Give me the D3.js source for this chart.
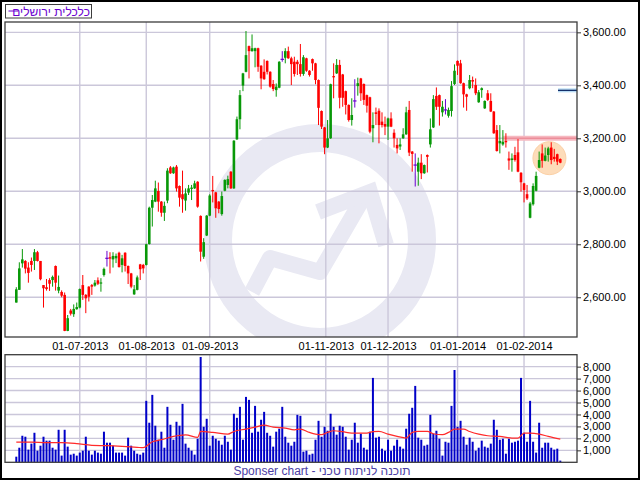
<!DOCTYPE html>
<html><head><meta charset="utf-8">
<script src="https://cdn.jsdelivr.net/npm/d3@7"></script>
<style>body{margin:0;background:#fff}svg{display:block}text{font-family:"Liberation Sans",Arial,sans-serif}</style>
</head><body><svg id="c" width="640" height="480"></svg>
<script>
const opens=[2580,2628,2728,2737,2712,2737,2737,2770,2737,2646,2638,2665,2665,2718,2625,2620,2609,2473,2550,2536,2555,2561,2646,2609,2640,2646,2644,2664,2653,2684,2747,2751,2743,2747,2768,2722,2768,2718,2690,2611,2628,2724,2722,2722,2801,2938,2961,3001,2961,2919,2965,3090,3068,3093,3020,2989,2965,2995,3009,3011,3036,2907,2753,2833,2908,3005,2996,2961,2914,3002,3024,3074,3011,3196,3272,3399,3451,3548,3529,3529,3540,3474,3451,3492,3451,3405,3382,3391,3498,3504,3529,3502,3489,3489,3480,3443,3502,3455,3499,3483,3420,3303,3241,3165,3200,3435,3445,3477,3441,3378,3326,3269,3341,3397,3426,3405,3363,3355,3238,3298,3304,3263,3254,3244,3275,3221,3175,3169,3200,3215,3307,3150,3099,3074,3108,3068,3137,3177,3241,3360,3363,3298,3307,3285,3303,3405,3492,3483,3408,3366,3389,3420,3401,3336,3382,3313,3370,3341,3301,3231,3181,3177,3190,3124,3118,3137,3147,3070,3030,2989,2900,2951,3002,3089,3143,3115,3137,3165,3130,3140,3122];
const highs=[2638,2732,2782,2740,2732,2750,2782,2775,2737,2646,2669,2672,2682,2720,2682,2626,2618,2533,2556,2573,2580,2633,2684,2612,2642,2650,2665,2675,2672,2712,2775,2770,2770,2765,2772,2760,2770,2720,2692,2646,2682,2726,2726,2802,2942,2986,3040,3033,2963,2961,3087,3095,3093,3099,3022,3078,3011,3024,3024,3040,3038,2909,2823,2910,2989,3058,2998,2963,2999,3045,3059,3076,3193,3282,3382,3447,3605,3550,3592,3542,3542,3476,3498,3494,3453,3420,3407,3491,3529,3540,3546,3508,3508,3496,3556,3514,3504,3457,3501,3485,3422,3305,3243,3269,3406,3483,3499,3496,3443,3380,3328,3351,3423,3429,3428,3407,3365,3357,3298,3316,3313,3298,3282,3278,3298,3234,3200,3200,3238,3319,3341,3152,3143,3127,3140,3101,3139,3275,3363,3392,3365,3341,3348,3316,3416,3479,3494,3496,3410,3368,3439,3433,3426,3382,3392,3343,3382,3370,3303,3250,3250,3231,3219,3150,3143,3168,3197,3072,3032,3024,2960,3030,3074,3150,3177,3165,3168,3185,3160,3142,3124];
const lows=[2580,2628,2712,2690,2655,2697,2703,2735,2664,2561,2625,2624,2640,2625,2615,2600,2472,2472,2531,2526,2553,2558,2590,2540,2584,2609,2640,2646,2621,2678,2716,2690,2712,2729,2712,2694,2697,2650,2634,2609,2626,2665,2690,2720,2799,2867,2959,2923,2904,2888,2955,3066,3066,2999,2942,2919,2927,2986,2967,3009,2938,2735,2745,2831,2906,2958,2900,2917,2908,3000,3011,3009,3009,3194,3234,3378,3449,3426,3527,3468,3451,3385,3421,3441,3391,3378,3357,3389,3489,3483,3500,3401,3433,3439,3433,3436,3451,3433,3455,3404,3250,3235,3140,3163,3198,3351,3443,3313,3319,3290,3263,3248,3316,3361,3341,3326,3297,3219,3185,3250,3181,3241,3212,3194,3242,3165,3143,3156,3198,3213,3133,3074,3018,3021,3046,3066,3071,3165,3239,3307,3248,3282,3290,3278,3282,3401,3439,3406,3316,3304,3385,3389,3363,3334,3353,3311,3341,3299,3217,3150,3143,3172,3165,3081,3074,3112,3072,2999,2958,2967,2898,2946,3000,3087,3089,3113,3112,3102,3112,3099,3106];
const closes=[2630,2709,2743,2708,2692,2722,2770,2737,2668,2634,2631,2651,2677,2655,2639,2606,2473,2521,2538,2556,2563,2631,2609,2596,2602,2640,2655,2651,2656,2707,2747,2746,2756,2756,2714,2747,2718,2690,2640,2630,2675,2706,2709,2800,2938,2967,3011,2961,2919,2945,3078,3068,3090,3011,2976,2970,2992,3011,3014,3030,2942,2772,2808,2908,2984,3001,2936,2933,2982,3043,3046,3011,3191,3272,3363,3445,3514,3529,3540,3540,3470,3426,3423,3451,3395,3386,3395,3489,3498,3529,3502,3480,3443,3480,3443,3506,3455,3439,3483,3420,3315,3244,3165,3200,3404,3430,3477,3353,3353,3326,3269,3288,3341,3408,3370,3345,3323,3225,3250,3292,3250,3250,3244,3275,3244,3200,3162,3177,3215,3298,3146,3141,3099,3108,3068,3099,3130,3234,3348,3319,3319,3319,3307,3307,3397,3455,3474,3408,3366,3357,3420,3414,3370,3374,3389,3341,3345,3301,3219,3152,3190,3187,3185,3116,3124,3118,3074,3034,3005,2973,2954,3020,3058,3118,3115,3135,3162,3118,3122,3112,3108];
const volumes=[470,1220,2220,2140,1060,1560,2470,970,1390,2140,1810,1810,1220,1060,2720,560,2720,1310,640,720,560,810,970,2140,970,640,970,810,720,2560,1640,1640,1390,810,810,810,560,2060,1390,970,720,640,810,5140,3310,5640,3060,1890,2560,1220,4640,3140,1890,3390,3060,4890,1560,1220,970,640,1970,8810,2970,3640,1390,2220,1970,1810,1470,2220,1720,1060,4060,3720,4640,1890,5470,5220,2470,4720,2560,3560,4220,2470,2220,1310,2560,2810,4640,2140,1640,1390,1720,3970,3890,890,970,640,720,1890,3470,2140,2970,2640,4060,2970,2310,3060,2970,2140,1060,1890,3310,1640,2390,1220,1060,2560,7060,2060,2140,1140,970,1890,970,1390,1890,1310,1140,2810,4060,4560,6390,2060,1890,1390,1470,3970,2390,2640,1970,560,1720,1640,4720,7720,2970,3470,2140,1470,2060,1720,970,1220,1810,1310,1220,1560,3560,2720,1890,1970,720,1970,1640,1720,1810,7060,2470,1720,5140,1720,810,3310,1220,1640,1640,1220,1060,1140,140];
const maIndex=[0,5,10,15,20,25,30,35,40,42,45,48,52,56,60,61,65,70,72,76,79,82,85,89,92,94,97,99,101,103,105,108,111,116,118,120,123,126,129,131,133,136,138,141,143,145,148,150,153,156,160,164,166,168,170,173,176,180];
const maValues=[1690,1690,1640,1640,1560,1420,1390,1330,1250,1220,1720,1890,2170,2300,2080,2580,2500,2360,2580,2780,2940,3110,2940,2860,2720,2780,2500,2360,2310,2500,2640,2560,2440,2440,2560,2580,2360,2170,2030,2500,2580,2580,2390,2310,2500,2780,2780,2580,2360,2220,2170,2030,2030,2440,2440,2360,2170,1940];
const tickIndex=[21,43,64,102.4,123,146,168];
const tickLabels=["01-07-2013","01-08-2013","01-09-2013","01-11-2013","01-12-2013","01-01-2014","01-02-2014"];
const priceTicks=[2600,2800,3000,3200,3400,3600];
const volumeTicks=[1000,2000,3000,4000,5000,6000,7000,8000];
const legendLabel="כלכלית ירושלים";
const footerText="Sponser chart - תוכנה לניתוח טכני";
const resistanceLevel=3200, resistanceFrom=161;
const markerLevel=3381;
const highlight={index:176.4,value:3125};

const svg=d3.select("#c");
const n=closes.length;
const P={l:5,r:577,t:22,b:337};
const V={t:354.7,b:462.3};
const x=d3.scaleLinear().domain([0,n-1]).range([16.3,560.3]);
const y=d3.scaleLinear().domain([2450,3639]).range([P.b,P.t]);
const yv=d3.scaleLinear().domain([0,9000]).range([V.b,V.t]);
const GRID="#cbc7da", GREEN="#089808", RED="#ff0000", PURPLE="#6a00d0";

svg.append("rect").attr("width",640).attr("height",480).attr("fill","#fff");

// clip paths
const defs=svg.append("defs");
defs.append("clipPath").attr("id","cp").append("rect").attr("x",P.l).attr("y",P.t).attr("width",P.r-P.l).attr("height",P.b-P.t);
defs.append("clipPath").attr("id","cv").append("rect").attr("x",P.l).attr("y",V.t).attr("width",P.r-P.l).attr("height",V.b-V.t);

// main panel
const main=svg.append("g").attr("clip-path","url(#cp)");
const wm=main.append("g").attr("transform","translate(320,240)").attr("fill","#e9e9f3").attr("stroke","#e9e9f3");
wm.append("path").attr("stroke","none").attr("d",d3.arc()({innerRadius:88,outerRadius:116,startAngle:0,endAngle:2*Math.PI}));
wm.append("path").attr("fill","none").attr("stroke-width",16).attr("stroke-linejoin","round")
  .attr("d",d3.line()([[-68,52],[-50,18],[0,32],[42,-40]]));
wm.append("path").attr("fill","none").attr("stroke-width",16).attr("stroke-linejoin","miter")
  .attr("d",d3.line()([[-2,-28],[50,-48],[66,5]]));

main.append("g").selectAll("line").data(priceTicks).join("line")
  .attr("x1",P.l).attr("x2",P.r).attr("y1",d=>y(d)).attr("y2",d=>y(d)).attr("stroke",GRID).attr("stroke-width",1.4);
main.append("g").selectAll("line").data(tickIndex).join("line")
  .attr("x1",d=>x(d)).attr("x2",d=>x(d)).attr("y1",P.t).attr("y2",P.b).attr("stroke",GRID).attr("stroke-width",1.4);

// highlight circle
main.append("circle").attr("cx",x(highlight.index)).attr("cy",y(highlight.value)).attr("r",16.5)
  .attr("fill","#fddcba").attr("stroke","#fbd0a6").attr("stroke-width",1);
// resistance line
main.append("line").attr("x1",x(resistanceFrom)).attr("x2",P.r).attr("y1",y(resistanceLevel)).attr("y2",y(resistanceLevel))
  .attr("stroke","#f6b8c0").attr("stroke-width",5);
main.append("line").attr("x1",x(resistanceFrom)).attr("x2",P.r).attr("y1",y(resistanceLevel)).attr("y2",y(resistanceLevel))
  .attr("stroke","#ec8e9a").attr("stroke-width",1.5);
// marker line
main.append("line").attr("x1",558).attr("x2",P.r).attr("y1",y(markerLevel)).attr("y2",y(markerLevel))
  .attr("stroke","#b9dcf4").attr("stroke-width",4);
main.append("line").attr("x1",558).attr("x2",P.r).attr("y1",y(markerLevel)).attr("y2",y(markerLevel))
  .attr("stroke","#15306a").attr("stroke-width",1.3);

// candles
const idx=d3.range(n);
const col=i=>closes[i]>opens[i]?GREEN:(closes[i]<opens[i]?RED:PURPLE);
const cg=main.append("g");
cg.selectAll("line").data(idx).join("line")
  .attr("x1",i=>x(i)).attr("x2",i=>x(i)).attr("y1",i=>y(highs[i])).attr("y2",i=>y(lows[i]))
  .attr("stroke",col).attr("stroke-width",1);
cg.selectAll("rect").data(idx).join("rect")
  .attr("x",i=>x(i)-(opens[i]===closes[i]?1.7:1.3)).attr("width",i=>opens[i]===closes[i]?3.4:2.6)
  .attr("y",i=>y(Math.max(opens[i],closes[i]))-(opens[i]===closes[i]?0.6:0))
  .attr("height",i=>Math.max(1.2,y(Math.min(opens[i],closes[i]))-y(Math.max(opens[i],closes[i]))))
  .attr("fill",col);

// main frame
svg.append("rect").attr("x",P.l).attr("y",P.t).attr("width",P.r-P.l).attr("height",P.b-P.t)
  .attr("fill","none").attr("stroke","#3c3c3c").attr("stroke-width",1.3);

// price axis
const pa=svg.append("g").attr("transform",`translate(${P.r},0)`)
  .call(d3.axisRight(y).tickValues(priceTicks).tickFormat(d3.format(",.2f")).tickSize(4).tickPadding(2));
pa.select(".domain").remove();
pa.selectAll("line").attr("stroke","#333");
pa.selectAll("text").attr("font-size",11).attr("fill","#000").attr("font-family","Liberation Sans, Arial, sans-serif");

// x labels
const xa=svg.append("g").attr("transform",`translate(0,${P.b})`)
  .call(d3.axisBottom(x).tickValues(tickIndex).tickFormat((d,i)=>tickLabels[i]).tickSize(0).tickPadding(5));
xa.select(".domain").remove();
xa.selectAll("text").attr("font-size",11).attr("fill","#000").attr("font-family","Liberation Sans, Arial, sans-serif");

// volume panel
const vp=svg.append("g").attr("clip-path","url(#cv)");
vp.append("g").selectAll("line").data(volumeTicks).join("line")
  .attr("x1",P.l).attr("x2",P.r).attr("y1",d=>yv(d)).attr("y2",d=>yv(d)).attr("stroke",GRID).attr("stroke-width",1.4);
vp.append("g").selectAll("line").data(tickIndex).join("line")
  .attr("x1",d=>x(d)).attr("x2",d=>x(d)).attr("y1",V.t).attr("y2",V.b).attr("stroke",GRID).attr("stroke-width",1.4);
vp.append("g").selectAll("rect").data(idx).join("rect")
  .attr("x",i=>x(i)-1).attr("width",2).attr("y",i=>yv(volumes[i])).attr("height",i=>V.b-yv(volumes[i]))
  .attr("fill","#0000c8");
vp.append("path").datum(d3.range(maIndex.length)).attr("fill","none").attr("stroke","#ff2a2a").attr("stroke-width",1.2)
  .attr("d",d3.line().x(k=>x(maIndex[k])).y(k=>yv(maValues[k])).curve(d3.curveMonotoneX));
svg.append("rect").attr("x",P.l).attr("y",V.t).attr("width",P.r-P.l).attr("height",V.b-V.t)
  .attr("fill","none").attr("stroke","#3c3c3c").attr("stroke-width",1.3);
const va=svg.append("g").attr("transform",`translate(${P.r},0)`)
  .call(d3.axisRight(yv).tickValues(volumeTicks).tickFormat(d3.format(",")).tickSize(4).tickPadding(2));
va.select(".domain").remove();
va.selectAll("line").attr("stroke","#333");
va.selectAll("text").attr("font-size",11).attr("fill","#000").attr("font-family","Liberation Sans, Arial, sans-serif");

// legend
svg.append("rect").attr("x",5.5).attr("y",4.5).attr("width",86).attr("height",13.5).attr("fill","#fff").attr("stroke","#3c3c3c").attr("stroke-width",1);
svg.append("line").attr("x1",8.5).attr("x2",18.5).attr("y1",11).attr("y2",11).attr("stroke",PURPLE).attr("stroke-width",1);
svg.append("text").attr("x",90).attr("y",15.5).attr("text-anchor","end").attr("font-size",12).attr("fill",PURPLE).text(legendLabel);

// footer
svg.append("text").attr("x",322).attr("y",475).attr("text-anchor","middle").attr("font-size",12).attr("fill","#4c40a4").text(footerText);

// outer border
svg.append("rect").attr("x",1).attr("y",1).attr("width",638).attr("height",478).attr("fill","none").attr("stroke","#000").attr("stroke-width",2);
</script></body></html>
